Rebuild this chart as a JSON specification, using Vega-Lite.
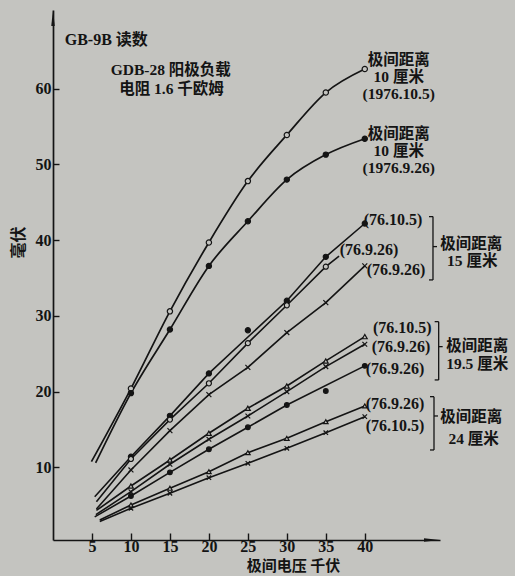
{
  "$schema": "https://vega.github.io/schema/vega-lite/v6.json",
  "width": 387,
  "height": 530,
  "autosize": {"type": "none"},
  "padding": {"left": 53, "top": 10, "right": 75, "bottom": 36},
  "background": "#c4c4c0",
  "config": {"view": {"stroke": null}, "axis": {"grid": false}},
  "datasets": {
    "readings": [
      {"series": "A", "kv": 4.93, "mv": 10.74, "pt": "line"},
      {"series": "A", "kv": 10, "mv": 20.4, "pt": "reading"},
      {"series": "A", "kv": 15, "mv": 30.6, "pt": "reading"},
      {"series": "A", "kv": 20, "mv": 39.7, "pt": "reading"},
      {"series": "A", "kv": 25, "mv": 47.8, "pt": "reading"},
      {"series": "A", "kv": 30, "mv": 53.9, "pt": "reading"},
      {"series": "A", "kv": 35, "mv": 59.5, "pt": "reading"},
      {"series": "A", "kv": 40, "mv": 62.6, "pt": "reading"},
      {"series": "B", "kv": 5.48, "mv": 10.6, "pt": "line"},
      {"series": "B", "kv": 10, "mv": 19.8, "pt": "reading"},
      {"series": "B", "kv": 15, "mv": 28.2, "pt": "reading"},
      {"series": "B", "kv": 20, "mv": 36.6, "pt": "reading"},
      {"series": "B", "kv": 25, "mv": 42.5, "pt": "reading"},
      {"series": "B", "kv": 30, "mv": 48.0, "pt": "reading"},
      {"series": "B", "kv": 35, "mv": 51.3, "pt": "reading"},
      {"series": "B", "kv": 40, "mv": 53.4, "pt": "reading"},
      {"series": "F15", "kv": 5.35, "mv": 6.12, "pt": "line"},
      {"series": "F15", "kv": 10, "mv": 11.4, "pt": "reading"},
      {"series": "F15", "kv": 15, "mv": 16.8, "pt": "reading"},
      {"series": "F15", "kv": 20, "mv": 22.4, "pt": "reading"},
      {"series": "F15", "kv": 25, "mv": 28.1, "pt": "outlier"},
      {"series": "F15", "kv": 30, "mv": 32.0, "pt": "reading"},
      {"series": "F15", "kv": 35, "mv": 37.8, "pt": "reading"},
      {"series": "F15", "kv": 40, "mv": 42.2, "pt": "reading"},
      {"series": "O15", "kv": 5.57, "mv": 5.46, "pt": "line"},
      {"series": "O15", "kv": 10, "mv": 11.1, "pt": "reading"},
      {"series": "O15", "kv": 15, "mv": 16.3, "pt": "reading"},
      {"series": "O15", "kv": 20, "mv": 21.1, "pt": "reading"},
      {"series": "O15", "kv": 25, "mv": 26.4, "pt": "reading"},
      {"series": "O15", "kv": 30, "mv": 31.4, "pt": "reading"},
      {"series": "O15", "kv": 35, "mv": 36.5, "pt": "reading"},
      {"series": "O15", "kv": 36.7, "mv": 37.9, "pt": "line"},
      {"series": "C15", "kv": 5.57, "mv": 4.5, "pt": "line"},
      {"series": "C15", "kv": 10, "mv": 9.65, "pt": "reading"},
      {"series": "C15", "kv": 15, "mv": 14.84, "pt": "reading"},
      {"series": "C15", "kv": 20, "mv": 19.6, "pt": "reading"},
      {"series": "C15", "kv": 25, "mv": 23.2, "pt": "reading"},
      {"series": "C15", "kv": 30, "mv": 27.8, "pt": "reading"},
      {"series": "C15", "kv": 35, "mv": 31.75, "pt": "reading"},
      {"series": "C15", "kv": 40, "mv": 36.6, "pt": "reading"},
      {"series": "T19", "kv": 5.57, "mv": 4.3, "pt": "line"},
      {"series": "T19", "kv": 10, "mv": 7.53, "pt": "reading"},
      {"series": "T19", "kv": 15, "mv": 10.97, "pt": "reading"},
      {"series": "T19", "kv": 20, "mv": 14.5, "pt": "reading"},
      {"series": "T19", "kv": 25, "mv": 17.8, "pt": "reading"},
      {"series": "T19", "kv": 30, "mv": 20.74, "pt": "reading"},
      {"series": "T19", "kv": 35, "mv": 24.05, "pt": "reading"},
      {"series": "T19", "kv": 40, "mv": 27.26, "pt": "reading"},
      {"series": "X19", "kv": 5.5, "mv": 3.75, "pt": "line"},
      {"series": "X19", "kv": 10, "mv": 6.78, "pt": "reading"},
      {"series": "X19", "kv": 15, "mv": 10.4, "pt": "reading"},
      {"series": "X19", "kv": 20, "mv": 13.7, "pt": "reading"},
      {"series": "X19", "kv": 25, "mv": 16.78, "pt": "reading"},
      {"series": "X19", "kv": 30, "mv": 19.99, "pt": "reading"},
      {"series": "X19", "kv": 35, "mv": 23.3, "pt": "reading"},
      {"series": "X19", "kv": 40, "mv": 26.25, "pt": "reading"},
      {"series": "D19", "kv": 5.35, "mv": 3.45, "pt": "line"},
      {"series": "D19", "kv": 10, "mv": 6.21, "pt": "reading"},
      {"series": "D19", "kv": 15, "mv": 9.34, "pt": "reading"},
      {"series": "D19", "kv": 20, "mv": 12.38, "pt": "reading"},
      {"series": "D19", "kv": 25, "mv": 15.29, "pt": "reading"},
      {"series": "D19", "kv": 30, "mv": 18.23, "pt": "reading"},
      {"series": "D19", "kv": 35, "mv": 20.08, "pt": "outlier"},
      {"series": "D19", "kv": 40, "mv": 23.4, "pt": "reading"},
      {"series": "T24", "kv": 6.0, "mv": 3.05, "pt": "line"},
      {"series": "T24", "kv": 10, "mv": 5.02, "pt": "reading"},
      {"series": "T24", "kv": 15, "mv": 7.23, "pt": "reading"},
      {"series": "T24", "kv": 20, "mv": 9.42, "pt": "reading"},
      {"series": "T24", "kv": 25, "mv": 11.93, "pt": "reading"},
      {"series": "T24", "kv": 30, "mv": 13.83, "pt": "reading"},
      {"series": "T24", "kv": 35, "mv": 16.03, "pt": "reading"},
      {"series": "T24", "kv": 40, "mv": 18.1, "pt": "reading"},
      {"series": "X24", "kv": 6.0, "mv": 2.85, "pt": "line"},
      {"series": "X24", "kv": 10, "mv": 4.59, "pt": "reading"},
      {"series": "X24", "kv": 15, "mv": 6.57, "pt": "reading"},
      {"series": "X24", "kv": 20, "mv": 8.63, "pt": "reading"},
      {"series": "X24", "kv": 25, "mv": 10.53, "pt": "reading"},
      {"series": "X24", "kv": 30, "mv": 12.51, "pt": "reading"},
      {"series": "X24", "kv": 35, "mv": 14.57, "pt": "reading"},
      {"series": "X24", "kv": 40, "mv": 16.69, "pt": "reading"}
    ],
    "captions": [
      {"label": "GDB-28 阳极负载", "kv": 15.1, "mv": 62.49},
      {"label": "电阻 1.6 千欧姆", "kv": 15.2, "mv": 59.98},
      {"label": "极间距离", "kv": 44.35, "mv": 63.8},
      {"label": "10 厘米", "kv": 44.35, "mv": 61.6},
      {"label": "(1976.10.5)", "kv": 44.35, "mv": 59.35},
      {"label": "极间距离", "kv": 44.35, "mv": 54.0},
      {"label": "10 厘米", "kv": 44.35, "mv": 51.75},
      {"label": "(1976.9.26)", "kv": 44.35, "mv": 49.5},
      {"label": "极间距离", "kv": 53.65, "mv": 39.5},
      {"label": "15 厘米", "kv": 53.78, "mv": 37.25},
      {"label": "极间距离", "kv": 54.42, "mv": 26.05},
      {"label": "19.5 厘米", "kv": 54.42, "mv": 23.65},
      {"label": "极间距离", "kv": 53.65, "mv": 16.6},
      {"label": "24 厘米", "kv": 53.97, "mv": 13.75}
    ],
    "tags": [
      {"label": "GB-9B 读数", "kv": 1.5, "mv": 66.45},
      {"label": "(76.10.5)", "kv": 39.86, "mv": 42.67},
      {"label": "(76.9.26)", "kv": 36.78, "mv": 38.71},
      {"label": "(76.9.26)", "kv": 40.24, "mv": 36.07},
      {"label": "(76.10.5)", "kv": 41.05, "mv": 28.37},
      {"label": "(76.9.26)", "kv": 40.88, "mv": 25.94},
      {"label": "(76.9.26)", "kv": 40.11, "mv": 22.95},
      {"label": "(76.9.26)", "kv": 40.11, "mv": 18.37},
      {"label": "(76.10.5)", "kv": 40.11, "mv": 15.46}
    ],
    "braces": [
      {"group": "15", "kv": 48.75, "mv": 43.11, "end": "top"},
      {"group": "15", "kv": 48.75, "mv": 34.75, "end": "bottom"},
      {"group": "15", "kv": 48.75, "mv": 39.15, "end": "mid"},
      {"group": "19.5", "kv": 49.48, "mv": 29.24, "end": "top"},
      {"group": "19.5", "kv": 49.48, "mv": 21.54, "end": "bottom"},
      {"group": "19.5", "kv": 49.48, "mv": 25.94, "end": "mid"},
      {"group": "24", "kv": 48.88, "mv": 19.33, "end": "top"},
      {"group": "24", "kv": 48.88, "mv": 12.29, "end": "bottom"},
      {"group": "24", "kv": 48.88, "mv": 16.78, "end": "mid"}
    ],
    "arrows": [
      {"axis": "y", "kv": 0, "mv": 70.4},
      {"axis": "x", "kv": 49.65, "mv": 0.4}
    ]
  },
  "encoding": {
    "x": {
      "field": "kv", "type": "quantitative",
      "scale": {"domain": [0, 49.65], "nice": false, "zero": false},
      "axis": {
        "values": [5, 10, 15, 20, 25, 30, 35, 40],
        "tickSize": -7, "tickWidth": 1.4, "tickColor": "#141414",
        "domainColor": "#141414", "domainWidth": 1.7,
        "labelFont": "Liberation Serif", "labelFontSize": 16, "labelFontWeight": "bold",
        "labelColor": "#141414", "labelPadding": 5, "labelFlush": false, "labelOverlap": false,
        "title": "极间电压 千伏", "titleFont": "Noto Sans CJK SC", "titleFontSize": 15,
        "titleFontWeight": "bold", "titleColor": "#141414",
        "titleX": 240, "titleY": 25.5, "titleBaseline": "middle", "titleAlign": "center"
      }
    },
    "y": {
      "field": "mv", "type": "quantitative",
      "scale": {"domain": [0.4, 70.4], "nice": false, "zero": false},
      "axis": {
        "values": [10, 20, 30, 40, 50, 60],
        "tickSize": -6, "tickWidth": 1.4, "tickColor": "#141414",
        "domainColor": "#141414", "domainWidth": 1.7,
        "labelFont": "Liberation Serif", "labelFontSize": 16, "labelFontWeight": "bold",
        "labelColor": "#141414", "labelPadding": 8, "labelFlush": false, "labelOverlap": false,
        "title": "毫伏", "titleFont": "Noto Sans CJK SC", "titleFontSize": 16,
        "titleFontWeight": "bold", "titleColor": "#141414",
        "titleX": -35, "titleY": 232, "titleAngle": -90, "titleBaseline": "middle", "titleAlign": "center"
      }
    }
  },
  "layer": [
    {
      "data": {"name": "readings"},
      "transform": [{"filter": "datum.pt !== 'outlier' && (datum.series === 'A' || datum.series === 'B')"}],
      "mark": {"type": "line", "interpolate": "monotone", "color": "#141414", "strokeWidth": 1.7},
      "encoding": {"detail": {"field": "series"}}
    },
    {
      "data": {"name": "readings"},
      "transform": [{"filter": "datum.pt !== 'outlier' && datum.series !== 'A' && datum.series !== 'B'"}],
      "mark": {"type": "line", "interpolate": "linear", "color": "#141414", "strokeWidth": 1.6},
      "encoding": {"detail": {"field": "series"}}
    },
    {
      "data": {"name": "readings"},
      "transform": [{"filter": "datum.pt !== 'line'"}],
      "mark": {"type": "point", "filled": true, "stroke": "#141414", "strokeWidth": 1.2, "opacity": 1},
      "encoding": {
        "shape": {
          "field": "series", "type": "nominal", "legend": null,
          "scale": {
            "domain": ["A", "B", "F15", "O15", "C15", "T19", "X19", "D19", "T24", "X24"],
            "range": ["circle", "circle", "circle", "circle", "M-1,-1L1,1M1,-1L-1,1", "triangle-up", "M-1,-1L1,1M1,-1L-1,1", "circle", "triangle-up", "M-1,-1L1,1M1,-1L-1,1"]
          }
        },
        "fill": {
          "field": "series", "type": "nominal", "legend": null,
          "scale": {
            "domain": ["A", "B", "F15", "O15", "C15", "T19", "X19", "D19", "T24", "X24"],
            "range": ["#c4c4c0", "#141414", "#141414", "#c4c4c0", "#141414", "#c4c4c0", "#141414", "#141414", "#c4c4c0", "#141414"]
          }
        },
        "size": {
          "field": "series", "type": "nominal", "legend": null,
          "scale": {
            "domain": ["A", "B", "F15", "O15", "C15", "T19", "X19", "D19", "T24", "X24"],
            "range": [28, 20, 20, 28, 30, 38, 30, 20, 38, 30]
          }
        }
      }
    },
    {
      "data": {"name": "braces"},
      "transform": [{"filter": "datum.end !== 'mid'"}],
      "mark": {"type": "line", "color": "#141414", "strokeWidth": 1.3},
      "encoding": {"detail": {"field": "group"}, "order": {"field": "mv", "type": "quantitative"}}
    },
    {
      "data": {"name": "braces"},
      "transform": [{"filter": "datum.end !== 'mid'"}],
      "mark": {"type": "rule", "color": "#141414", "strokeWidth": 1.3, "x2Offset": -4},
      "encoding": {"x2": {"field": "kv"}}
    },
    {
      "data": {"name": "braces"},
      "transform": [{"filter": "datum.end === 'mid'"}],
      "mark": {"type": "rule", "color": "#141414", "strokeWidth": 1.3, "x2Offset": 4},
      "encoding": {"x2": {"field": "kv"}}
    },
    {
      "data": {"name": "captions"},
      "mark": {"type": "text", "font": "Liberation Serif, Noto Sans CJK SC", "fontSize": 15.5, "fontWeight": "bold", "align": "center", "baseline": "middle", "color": "#141414"},
      "encoding": {"text": {"field": "label"}}
    },
    {
      "data": {"name": "tags"},
      "mark": {"type": "text", "font": "Liberation Serif, Noto Sans CJK SC", "fontSize": 16, "fontWeight": "bold", "align": "left", "baseline": "middle", "color": "#141414"},
      "encoding": {"text": {"field": "label"}}
    },
    {
      "data": {"name": "arrows"},
      "transform": [{"filter": "datum.axis === 'y'"}],
      "mark": {"type": "point", "filled": true, "color": "#141414", "size": 256, "opacity": 1, "shape": "M0,0L0.22,2L-0.22,2Z"}
    },
    {
      "data": {"name": "arrows"},
      "transform": [{"filter": "datum.axis === 'x'"}],
      "mark": {"type": "point", "filled": true, "color": "#141414", "size": 256, "opacity": 1, "shape": "M0,0L-2,0.22L-2,-0.22Z"}
    }
  ]
}
